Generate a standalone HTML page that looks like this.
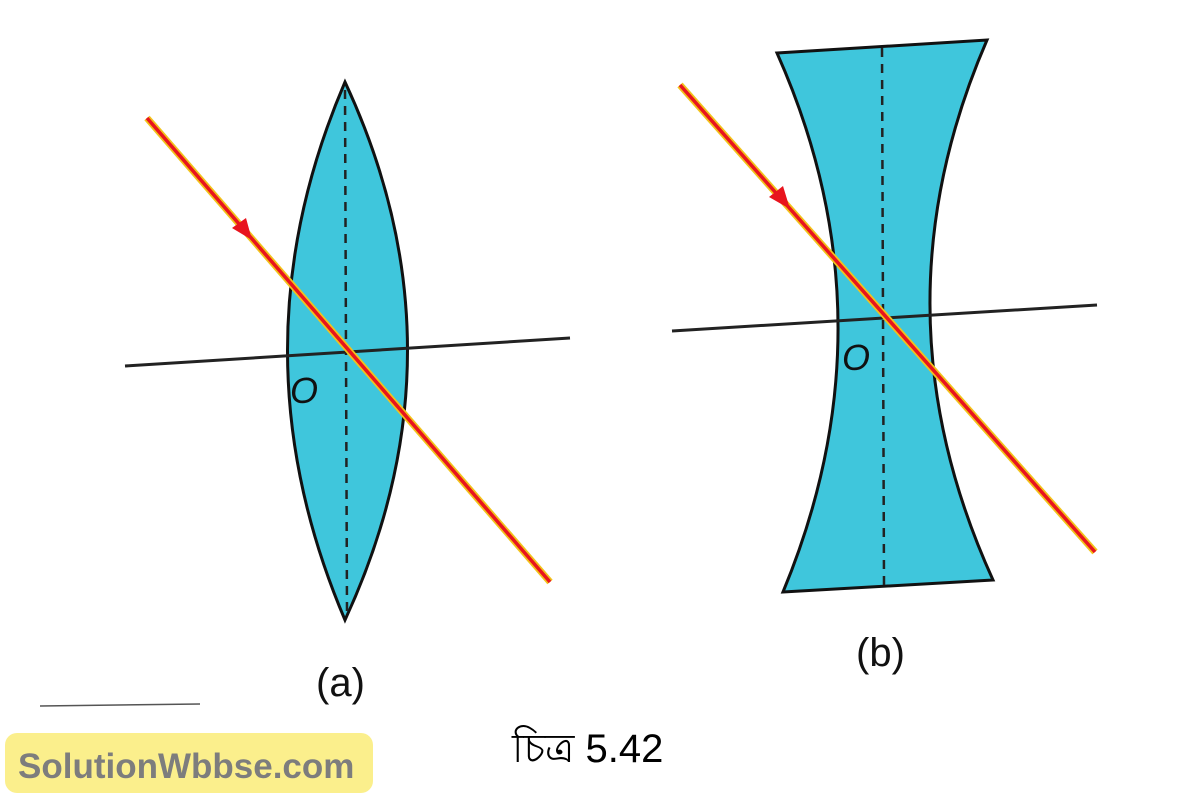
<!DOCTYPE html>
<html><head><meta charset="utf-8"><style>
html,body{margin:0;padding:0;background:#fff;width:1200px;height:800px;overflow:hidden}
</style></head><body>
<svg width="1200" height="800" viewBox="0 0 1200 800" xmlns="http://www.w3.org/2000/svg">
<rect width="1200" height="800" fill="#fff"/>
<!-- lens a -->
<path d="M345,82 Q230,350 345,620 Q470,350 345,82 Z" fill="#3fc6dc" stroke="#111" stroke-width="3"/>
<line x1="345" y1="90" x2="347" y2="612" stroke="#222" stroke-width="2.5" stroke-dasharray="9,7"/>
<line x1="125" y1="366" x2="570" y2="338" stroke="#222" stroke-width="3"/>
<line x1="147" y1="118" x2="550" y2="582" stroke="#f2c21a" stroke-width="7"/>
<line x1="147" y1="118" x2="550" y2="582" stroke="#e8141e" stroke-width="3.5"/>
<polygon points="252,240 232,228 246,218" fill="#e8141e"/>
<text x="290" y="403" font-family="Liberation Sans, sans-serif" font-style="italic" font-size="36" fill="#111">O</text>
<text x="316" y="696" font-family="Liberation Sans, sans-serif" font-size="40" fill="#111">(a)</text>
<!-- lens b -->
<path d="M777,53 L987,40 Q870,310 993,580 L783,592 Q896,320 777,53 Z" fill="#3fc6dc" stroke="#111" stroke-width="3"/>
<line x1="882" y1="48" x2="884" y2="585" stroke="#222" stroke-width="2.5" stroke-dasharray="9,7"/>
<line x1="672" y1="331" x2="1097" y2="305" stroke="#222" stroke-width="3"/>
<line x1="680" y1="85" x2="1095" y2="552" stroke="#f2c21a" stroke-width="7"/>
<line x1="680" y1="85" x2="1095" y2="552" stroke="#e8141e" stroke-width="3.5"/>
<polygon points="790,209 769,197 783,186" fill="#e8141e"/>
<text x="842" y="370" font-family="Liberation Sans, sans-serif" font-style="italic" font-size="36" fill="#111">O</text>
<text x="856" y="666" font-family="Liberation Sans, sans-serif" font-size="40" fill="#111">(b)</text>
<!-- caption -->
<line x1="40" y1="706" x2="200" y2="704" stroke="#555" stroke-width="1.5"/>
<text x="512" y="762" font-family="Liberation Sans, sans-serif" font-size="40" fill="#000">চিত্র 5.42</text>
<rect x="5" y="733" width="368" height="60" rx="12" fill="#fbef8c"/>
<text x="18" y="778" font-family="Liberation Sans, sans-serif" font-weight="bold" font-size="35" fill="#7d7d7d">SolutionWbbse.com</text>
</svg>
</body></html>
